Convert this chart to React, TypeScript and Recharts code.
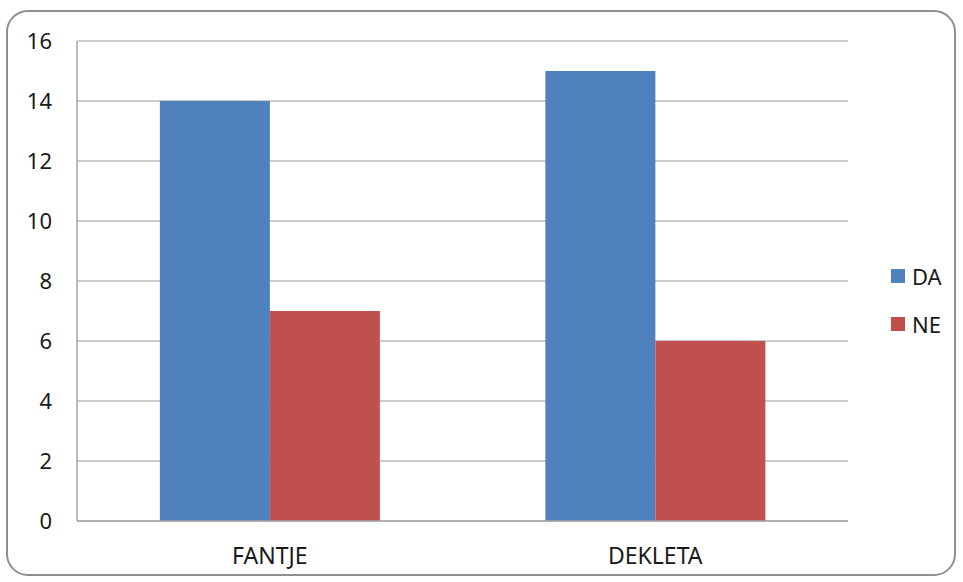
import React from "react";
import { BarChart, Bar, XAxis, YAxis, CartesianGrid, Legend } from "recharts";

const categories = ["FANTJE", "DEKLETA"];
const daValues = [14, 15];
const neValues = [7, 6];
const yTicks = [0, 2, 4, 6, 8, 10, 12, 14, 16];
const seriesNames = { da: "DA", ne: "NE" };
const colors = { da: "#4F81BD", ne: "#C0504D" };

const data = categories.map((c, i) => ({ name: c, DA: daValues[i], NE: neValues[i] }));

const font = "'Noto Sans', sans-serif";

const LegendContent = (props: any) => {
  const { payload } = props;
  return (
    <div style={{ fontFamily: font, fontSize: 22, color: "#1a1a1a", lineHeight: "30px" }}>
      {(payload || []).map((p: any, i: number) => (
        <div key={i} style={{ display: "flex", alignItems: "center", height: 30, marginBottom: i === 0 ? 18 : 0 }}>
          <span style={{ display: "inline-block", width: 14, height: 14, background: p.color, marginRight: 7 }} />
          <span>{p.value}</span>
        </div>
      ))}
    </div>
  );
};

export default function App() {
  return (
    <div style={{ position: "absolute", left: 0, top: 0, width: 963, height: 582, background: "#fff" }}>
      <div
        style={{
          position: "absolute",
          left: 6,
          top: 10,
          width: 950,
          height: 566,
          border: "2px solid #8f8f8f",
          borderRadius: 22,
          boxSizing: "border-box",
        }}
      />
      <div style={{ position: "absolute", left: 0, top: 0 }}>
        <BarChart
          width={963}
          height={582}
          data={data}
          margin={{ top: 41, right: 45, bottom: 31, left: 0 }}
          barCategoryGap="21.5%"
          barGap={0}
        >
          <CartesianGrid vertical={false} stroke="#bdbdbd" strokeWidth={1.5} />
          <XAxis
            dataKey="name"
            height={30}
            tickLine={false}
            tickSize={0}
            tickMargin={27}
            axisLine={{ stroke: "#a6a6a6", strokeWidth: 1.5 }}
            tick={{ fill: "#1a1a1a", fontSize: 23, fontFamily: font }}
          />
          <YAxis
            width={77}
            domain={[0, 16]}
            ticks={yTicks}
            interval={0}
            tickLine={false}
            tickSize={0}
            tickMargin={25}
            axisLine={{ stroke: "#a6a6a6", strokeWidth: 1.5 }}
            tick={{ fill: "#1a1a1a", fontSize: 22, fontFamily: font }}
          />
          <Legend
            layout="vertical"
            align="right"
            verticalAlign="middle"
            content={<LegendContent />}
            wrapperStyle={{ position: "absolute", left: 891, top: 261, width: 70, height: 80 }}
          />
          <Bar dataKey="DA" name={seriesNames.da} fill={colors.da} isAnimationActive={false} />
          <Bar dataKey="NE" name={seriesNames.ne} fill={colors.ne} isAnimationActive={false} />
        </BarChart>
      </div>
    </div>
  );
}
